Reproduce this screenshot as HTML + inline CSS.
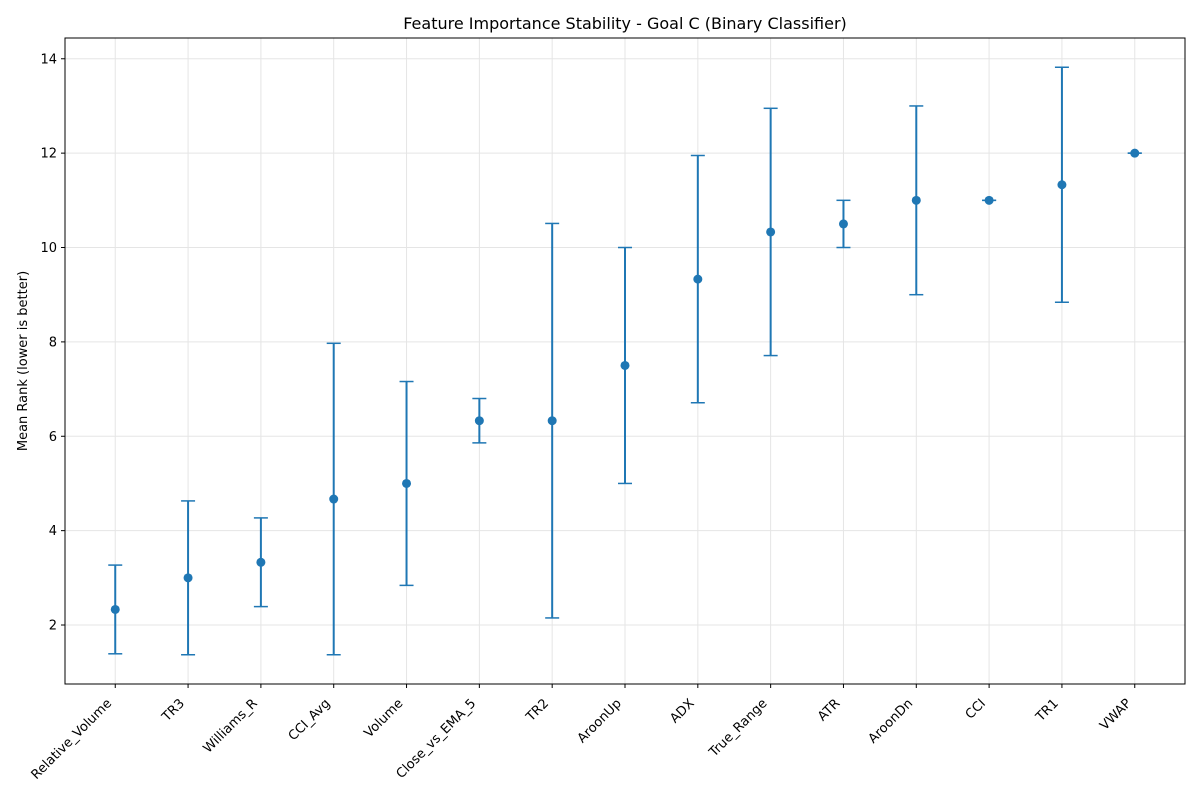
<!DOCTYPE html>
<html><head><meta charset="utf-8"><style>
body{margin:0;background:#fff;font-family:"Liberation Sans","DejaVu Sans",sans-serif;}
svg text{font-family:"DejaVu Sans","Liberation Sans",sans-serif;}
</style></head><body>
<svg id="chart" width="1200" height="800" xmlns="http://www.w3.org/2000/svg">
<rect width="1200" height="800" fill="#fff"/>
<text x="625" y="29" font-size="16" text-anchor="middle" fill="#000">Feature Importance Stability - Goal C (Binary Classifier)</text>
<text x="0" y="0" font-size="13" text-anchor="middle" transform="translate(27,361) rotate(-90)" fill="#000">Mean Rank (lower is better)</text>
<g id="grid"></g><g id="marks"></g><g id="axes"></g>
</svg>
<script>
const categories=["Relative_Volume","TR3","Williams_R","CCI_Avg","Volume","Close_vs_EMA_5","TR2","AroonUp","ADX","True_Range","ATR","AroonDn","CCI","TR1","VWAP"];
const means=[2.33,3.0,3.33,4.67,5.0,6.33,6.33,7.5,9.33,10.33,10.5,11.0,11.0,11.33,12.0];
const errs=[0.94,1.63,0.94,3.3,2.16,0.47,4.18,2.5,2.62,2.62,0.5,2.0,0.0,2.49,0.0];
const yTicks=[2,4,6,8,10,12,14];
const L=65,R=1185,T=38,B=684;
const xMin=-0.69,xMax=14.69,yMin=0.75,yMax=14.44;
const NS="http://www.w3.org/2000/svg";
function xs(i){return L+(i-xMin)/(xMax-xMin)*(R-L);}
function ys(v){return B-(v-yMin)/(yMax-yMin)*(B-T);}
function mk(tag,at,parent){const e=document.createElementNS(NS,tag);for(const k in at)e.setAttribute(k,at[k]);document.getElementById(parent).appendChild(e);return e;}
const C="#1f77b4";
categories.forEach((c,i)=>{
 const g=mk("line",{x1:xs(i),x2:xs(i),y1:T,y2:B,stroke:"#e5e5e5","stroke-width":1},"grid");
 
 
 const t=mk("line",{x1:xs(i),x2:xs(i),y1:B,y2:B+4,stroke:"#000"},"axes");
 
 
 const x=xs(i)-3,y=B+20;
 const lb=mk("text",{x:x,y:y,"font-size":13,"text-anchor":"end",transform:`rotate(-45 ${x} ${y})`},"axes");
 lb.textContent=c;
 
 
 const cx=xs(i);
 const lo=ys(means[i]-errs[i]),hi=ys(means[i]+errs[i]);
 const v=mk("line",{x1:cx,x2:cx,y1:hi,y2:lo,stroke:C,"stroke-width":2},"marks");
 
 
 [hi,lo].forEach(yy=>{const cap=mk("line",{x1:cx-7,x2:cx+7,y1:yy,y2:yy,stroke:C,"stroke-width":1.5},"marks");
 
 });
 const p=mk("circle",{cx:cx,cy:ys(means[i]),r:4.5,fill:C},"marks");
 
 
});
yTicks.forEach(v=>{
 const g=mk("line",{x1:L,x2:R,y1:ys(v),y2:ys(v),stroke:"#e5e5e5","stroke-width":1},"grid");
 
 
 const t=mk("line",{x1:L-4,x2:L,y1:ys(v),y2:ys(v),stroke:"#000"},"axes");
 
 
 const lb=mk("text",{x:L-8,y:ys(v)+4.5,"font-size":13,"text-anchor":"end"},"axes");
 lb.textContent=v;
 
 
});
const fr=mk("rect",{x:L,y:T,width:R-L,height:B-T,fill:"none",stroke:"#000","stroke-width":1},"axes");


</script>
</body></html>
